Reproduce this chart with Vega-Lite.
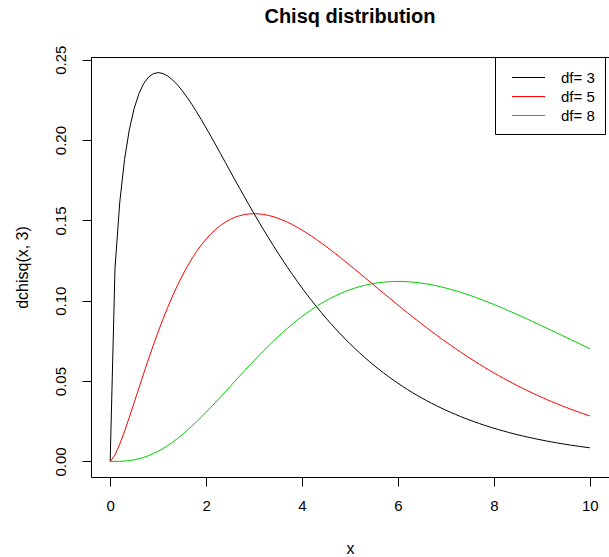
{
  "$schema": "https://vega.github.io/schema/vega-lite/v6.json",
  "width": 518,
  "height": 420,
  "autosize": {"type": "none"},
  "padding": {"left": 91, "top": 57, "right": 0, "bottom": 80},
  "background": "white",
  "title": {"text": "Chisq distribution", "font": "Liberation Sans", "fontSize": 20, "fontWeight": "bold", "color": "black", "anchor": "middle", "offset": 18},
  "config": {
    "view": {"stroke": "black", "strokeWidth": 1},
    "axis": {"grid": false, "domain": false, "tickColor": "black", "tickSize": 9, "labelFont": "Liberation Sans", "labelFontSize": 15, "labelColor": "black", "titleFont": "Liberation Sans", "titleFontSize": 16, "titleFontWeight": "normal", "titleColor": "black"},
    "legend": {"orient": "none", "legendX": 404, "legendY": 0, "title": null, "strokeColor": "black", "fillColor": "white", "padding": 10, "cornerRadius": 0, "rowPadding": 0, "labelFont": "Liberation Sans", "labelFontSize": 15, "labelColor": "black", "symbolType": "M-1.65,0H1.65", "symbolSize": 400, "symbolStrokeWidth": 1, "symbolOffset": 13, "labelOffset": 22}
  },
  "data": {"values": [
{"x":0,"df":"df= 3","y":0},{"x":0.1,"df":"df= 3","y":0.120004},{"x":0.2,"df":"df= 3","y":0.161434},{"x":0.3,"df":"df= 3","y":0.188073},{"x":0.4,"df":"df= 3","y":0.206578},{"x":0.5,"df":"df= 3","y":0.219696},{"x":0.6,"df":"df= 3","y":0.228927},{"x":0.7,"df":"df= 3","y":0.235211},{"x":0.8,"df":"df= 3","y":0.239188},{"x":0.9,"df":"df= 3","y":0.241324},{"x":1,"df":"df= 3","y":0.241971},
{"x":1.1,"df":"df= 3","y":0.241405},{"x":1.2,"df":"df= 3","y":0.239842},{"x":1.3,"df":"df= 3","y":0.23746},{"x":1.4,"df":"df= 3","y":0.234406},{"x":1.5,"df":"df= 3","y":0.2308},{"x":1.6,"df":"df= 3","y":0.226743},{"x":1.7,"df":"df= 3","y":0.222323},{"x":1.8,"df":"df= 3","y":0.217611},{"x":1.9,"df":"df= 3","y":0.21267},{"x":2,"df":"df= 3","y":0.207554},
{"x":2.1,"df":"df= 3","y":0.202307},{"x":2.2,"df":"df= 3","y":0.196969},{"x":2.3,"df":"df= 3","y":0.191574},{"x":2.4,"df":"df= 3","y":0.18615},{"x":2.5,"df":"df= 3","y":0.180722},{"x":2.6,"df":"df= 3","y":0.175313},{"x":2.7,"df":"df= 3","y":0.169939},{"x":2.8,"df":"df= 3","y":0.164618},{"x":2.9,"df":"df= 3","y":0.15936},{"x":3,"df":"df= 3","y":0.15418},
{"x":3.1,"df":"df= 3","y":0.149085},{"x":3.2,"df":"df= 3","y":0.144084},{"x":3.3,"df":"df= 3","y":0.139181},{"x":3.4,"df":"df= 3","y":0.134385},{"x":3.5,"df":"df= 3","y":0.129697},{"x":3.6,"df":"df= 3","y":0.125121},{"x":3.7,"df":"df= 3","y":0.120661},{"x":3.8,"df":"df= 3","y":0.116318},{"x":3.9,"df":"df= 3","y":0.112091},{"x":4,"df":"df= 3","y":0.107982},
{"x":4.1,"df":"df= 3","y":0.103992},{"x":4.2,"df":"df= 3","y":0.100119},{"x":4.3,"df":"df= 3","y":0.096363},{"x":4.4,"df":"df= 3","y":0.092723},{"x":4.5,"df":"df= 3","y":0.089198},{"x":4.6,"df":"df= 3","y":0.085786},{"x":4.7,"df":"df= 3","y":0.082484},{"x":4.8,"df":"df= 3","y":0.079291},{"x":4.9,"df":"df= 3","y":0.076206},{"x":5,"df":"df= 3","y":0.073225},
{"x":5.1,"df":"df= 3","y":0.070347},{"x":5.2,"df":"df= 3","y":0.067569},{"x":5.3,"df":"df= 3","y":0.064888},{"x":5.4,"df":"df= 3","y":0.062304},{"x":5.5,"df":"df= 3","y":0.059811},{"x":5.6,"df":"df= 3","y":0.057409},{"x":5.7,"df":"df= 3","y":0.055094},{"x":5.8,"df":"df= 3","y":0.052865},{"x":5.9,"df":"df= 3","y":0.050719},{"x":6,"df":"df= 3","y":0.048652},
{"x":6.1,"df":"df= 3","y":0.046664},{"x":6.2,"df":"df= 3","y":0.04475},{"x":6.3,"df":"df= 3","y":0.042909},{"x":6.4,"df":"df= 3","y":0.041139},{"x":6.5,"df":"df= 3","y":0.039437},{"x":6.6,"df":"df= 3","y":0.037801},{"x":6.7,"df":"df= 3","y":0.036229},{"x":6.8,"df":"df= 3","y":0.034718},{"x":6.9,"df":"df= 3","y":0.033267},{"x":7,"df":"df= 3","y":0.031873},
{"x":7.1,"df":"df= 3","y":0.030535},{"x":7.2,"df":"df= 3","y":0.029249},{"x":7.3,"df":"df= 3","y":0.028015},{"x":7.4,"df":"df= 3","y":0.026832},{"x":7.5,"df":"df= 3","y":0.025695},{"x":7.6,"df":"df= 3","y":0.024604},{"x":7.7,"df":"df= 3","y":0.023558},{"x":7.8,"df":"df= 3","y":0.022553},{"x":7.9,"df":"df= 3","y":0.021591},{"x":8,"df":"df= 3","y":0.020667},
{"x":8.1,"df":"df= 3","y":0.019781},{"x":8.2,"df":"df= 3","y":0.018933},{"x":8.3,"df":"df= 3","y":0.018118},{"x":8.4,"df":"df= 3","y":0.017339},{"x":8.5,"df":"df= 3","y":0.01659},{"x":8.6,"df":"df= 3","y":0.015875},{"x":8.7,"df":"df= 3","y":0.015188},{"x":8.8,"df":"df= 3","y":0.014529},{"x":8.9,"df":"df= 3","y":0.0139},{"x":9,"df":"df= 3","y":0.013296},
{"x":9.1,"df":"df= 3","y":0.012717},{"x":9.2,"df":"df= 3","y":0.012163},{"x":9.3,"df":"df= 3","y":0.011633},{"x":9.4,"df":"df= 3","y":0.011125},{"x":9.5,"df":"df= 3","y":0.010639},{"x":9.6,"df":"df= 3","y":0.010173},{"x":9.7,"df":"df= 3","y":0.009726},{"x":9.8,"df":"df= 3","y":0.009301},{"x":9.9,"df":"df= 3","y":0.008891},{"x":10,"df":"df= 3","y":0.0085},
{"x":0,"df":"df= 5","y":0},{"x":0.1,"df":"df= 5","y":0.004},{"x":0.2,"df":"df= 5","y":0.010762},{"x":0.3,"df":"df= 5","y":0.018807},{"x":0.4,"df":"df= 5","y":0.027544},{"x":0.5,"df":"df= 5","y":0.036616},{"x":0.6,"df":"df= 5","y":0.045785},{"x":0.7,"df":"df= 5","y":0.054883},{"x":0.8,"df":"df= 5","y":0.063783},{"x":0.9,"df":"df= 5","y":0.072397},{"x":1,"df":"df= 5","y":0.080657},
{"x":1.1,"df":"df= 5","y":0.088515},{"x":1.2,"df":"df= 5","y":0.095937},{"x":1.3,"df":"df= 5","y":0.102899},{"x":1.4,"df":"df= 5","y":0.109389},{"x":1.5,"df":"df= 5","y":0.1154},{"x":1.6,"df":"df= 5","y":0.12093},{"x":1.7,"df":"df= 5","y":0.125983},{"x":1.8,"df":"df= 5","y":0.130567},{"x":1.9,"df":"df= 5","y":0.134691},{"x":2,"df":"df= 5","y":0.138369},
{"x":2.1,"df":"df= 5","y":0.141615},{"x":2.2,"df":"df= 5","y":0.144444},{"x":2.3,"df":"df= 5","y":0.146873},{"x":2.4,"df":"df= 5","y":0.14892},{"x":2.5,"df":"df= 5","y":0.150602},{"x":2.6,"df":"df= 5","y":0.151938},{"x":2.7,"df":"df= 5","y":0.152945},{"x":2.8,"df":"df= 5","y":0.153643},{"x":2.9,"df":"df= 5","y":0.154048},{"x":3,"df":"df= 5","y":0.15418},
{"x":3.1,"df":"df= 5","y":0.154055},{"x":3.2,"df":"df= 5","y":0.15369},{"x":3.3,"df":"df= 5","y":0.153099},{"x":3.4,"df":"df= 5","y":0.152303},{"x":3.5,"df":"df= 5","y":0.151313},{"x":3.6,"df":"df= 5","y":0.150145},{"x":3.7,"df":"df= 5","y":0.148815},{"x":3.8,"df":"df= 5","y":0.147336},{"x":3.9,"df":"df= 5","y":0.145718},{"x":4,"df":"df= 5","y":0.143976},
{"x":4.1,"df":"df= 5","y":0.142122},{"x":4.2,"df":"df= 5","y":0.140167},{"x":4.3,"df":"df= 5","y":0.13812},{"x":4.4,"df":"df= 5","y":0.135994},{"x":4.5,"df":"df= 5","y":0.133797},{"x":4.6,"df":"df= 5","y":0.131538},{"x":4.7,"df":"df= 5","y":0.129225},{"x":4.8,"df":"df= 5","y":0.126866},{"x":4.9,"df":"df= 5","y":0.12447},{"x":5,"df":"df= 5","y":0.122042},
{"x":5.1,"df":"df= 5","y":0.11959},{"x":5.2,"df":"df= 5","y":0.11712},{"x":5.3,"df":"df= 5","y":0.114635},{"x":5.4,"df":"df= 5","y":0.112147},{"x":5.5,"df":"df= 5","y":0.109654},{"x":5.6,"df":"df= 5","y":0.107163},{"x":5.7,"df":"df= 5","y":0.104679},{"x":5.8,"df":"df= 5","y":0.102206},{"x":5.9,"df":"df= 5","y":0.099747},{"x":6,"df":"df= 5","y":0.097304},
{"x":6.1,"df":"df= 5","y":0.094883},{"x":6.2,"df":"df= 5","y":0.092483},{"x":6.3,"df":"df= 5","y":0.090109},{"x":6.4,"df":"df= 5","y":0.087763},{"x":6.5,"df":"df= 5","y":0.085447},{"x":6.6,"df":"df= 5","y":0.083162},{"x":6.7,"df":"df= 5","y":0.080911},{"x":6.8,"df":"df= 5","y":0.078694},{"x":6.9,"df":"df= 5","y":0.076514},{"x":7,"df":"df= 5","y":0.07437},
{"x":7.1,"df":"df= 5","y":0.072266},{"x":7.2,"df":"df= 5","y":0.070198},{"x":7.3,"df":"df= 5","y":0.06817},{"x":7.4,"df":"df= 5","y":0.066186},{"x":7.5,"df":"df= 5","y":0.064237},{"x":7.6,"df":"df= 5","y":0.06233},{"x":7.7,"df":"df= 5","y":0.060465},{"x":7.8,"df":"df= 5","y":0.058638},{"x":7.9,"df":"df= 5","y":0.056856},{"x":8,"df":"df= 5","y":0.055112},
{"x":8.1,"df":"df= 5","y":0.053409},{"x":8.2,"df":"df= 5","y":0.05175},{"x":8.3,"df":"df= 5","y":0.050127},{"x":8.4,"df":"df= 5","y":0.048549},{"x":8.5,"df":"df= 5","y":0.047005},{"x":8.6,"df":"df= 5","y":0.045508},{"x":8.7,"df":"df= 5","y":0.044045},{"x":8.8,"df":"df= 5","y":0.042618},{"x":8.9,"df":"df= 5","y":0.041237},{"x":9,"df":"df= 5","y":0.039888},
{"x":9.1,"df":"df= 5","y":0.038575},{"x":9.2,"df":"df= 5","y":0.0373},{"x":9.3,"df":"df= 5","y":0.036062},{"x":9.4,"df":"df= 5","y":0.034858},{"x":9.5,"df":"df= 5","y":0.03369},{"x":9.6,"df":"df= 5","y":0.032554},{"x":9.7,"df":"df= 5","y":0.031448},{"x":9.8,"df":"df= 5","y":0.030383},{"x":9.9,"df":"df= 5","y":0.02934},{"x":10,"df":"df= 5","y":0.028334},
{"x":0,"df":"df= 8","y":0},{"x":0.1,"df":"df= 8","y":0.0000099},{"x":0.2,"df":"df= 8","y":0.0000754},{"x":0.3,"df":"df= 8","y":0.000242},{"x":0.4,"df":"df= 8","y":0.000546},{"x":0.5,"df":"df= 8","y":0.001014},{"x":0.6,"df":"df= 8","y":0.001667},{"x":0.7,"df":"df= 8","y":0.002518},{"x":0.8,"df":"df= 8","y":0.003575},{"x":0.9,"df":"df= 8","y":0.004842},{"x":1,"df":"df= 8","y":0.006318},
{"x":1.1,"df":"df= 8","y":0.007999},{"x":1.2,"df":"df= 8","y":0.009879},{"x":1.3,"df":"df= 8","y":0.011947},{"x":1.4,"df":"df= 8","y":0.014194},{"x":1.5,"df":"df= 8","y":0.016607},{"x":1.6,"df":"df= 8","y":0.019171},{"x":1.7,"df":"df= 8","y":0.021874},{"x":1.8,"df":"df= 8","y":0.024699},{"x":1.9,"df":"df= 8","y":0.027632},{"x":2,"df":"df= 8","y":0.030657},
{"x":2.1,"df":"df= 8","y":0.033758},{"x":2.2,"df":"df= 8","y":0.036921},{"x":2.3,"df":"df= 8","y":0.040131},{"x":2.4,"df":"df= 8","y":0.043372},{"x":2.5,"df":"df= 8","y":0.046632},{"x":2.6,"df":"df= 8","y":0.049897},{"x":2.7,"df":"df= 8","y":0.053153},{"x":2.8,"df":"df= 8","y":0.056389},{"x":2.9,"df":"df= 8","y":0.059593},{"x":3,"df":"df= 8","y":0.062755},
{"x":3.1,"df":"df= 8","y":0.065865},{"x":3.2,"df":"df= 8","y":0.068915},{"x":3.3,"df":"df= 8","y":0.071893},{"x":3.4,"df":"df= 8","y":0.074794},{"x":3.5,"df":"df= 8","y":0.07761},{"x":3.6,"df":"df= 8","y":0.080335},{"x":3.7,"df":"df= 8","y":0.082965},{"x":3.8,"df":"df= 8","y":0.085492},{"x":3.9,"df":"df= 8","y":0.087912},{"x":4,"df":"df= 8","y":0.090223},
{"x":4.1,"df":"df= 8","y":0.092423},{"x":4.2,"df":"df= 8","y":0.094506},{"x":4.3,"df":"df= 8","y":0.096473},{"x":4.4,"df":"df= 8","y":0.098318},{"x":4.5,"df":"df= 8","y":0.100047},{"x":4.6,"df":"df= 8","y":0.101654},{"x":4.7,"df":"df= 8","y":0.103141},{"x":4.8,"df":"df= 8","y":0.104507},{"x":4.9,"df":"df= 8","y":0.105756},{"x":5,"df":"df= 8","y":0.106882},
{"x":5.1,"df":"df= 8","y":0.107893},{"x":5.2,"df":"df= 8","y":0.108786},{"x":5.3,"df":"df= 8","y":0.109566},{"x":5.4,"df":"df= 8","y":0.110236},{"x":5.5,"df":"df= 8","y":0.110794},{"x":5.6,"df":"df= 8","y":0.111243},{"x":5.7,"df":"df= 8","y":0.111587},{"x":5.8,"df":"df= 8","y":0.11183},{"x":5.9,"df":"df= 8","y":0.111974},{"x":6,"df":"df= 8","y":0.112021},
{"x":6.1,"df":"df= 8","y":0.111976},{"x":6.2,"df":"df= 8","y":0.111839},{"x":6.3,"df":"df= 8","y":0.111614},{"x":6.4,"df":"df= 8","y":0.111306},{"x":6.5,"df":"df= 8","y":0.11092},{"x":6.6,"df":"df= 8","y":0.110456},{"x":6.7,"df":"df= 8","y":0.109917},{"x":6.8,"df":"df= 8","y":0.109309},{"x":6.9,"df":"df= 8","y":0.108634},{"x":7,"df":"df= 8","y":0.107892},
{"x":7.1,"df":"df= 8","y":0.107095},{"x":7.2,"df":"df= 8","y":0.106236},{"x":7.3,"df":"df= 8","y":0.105323},{"x":7.4,"df":"df= 8","y":0.104364},{"x":7.5,"df":"df= 8","y":0.103352},{"x":7.6,"df":"df= 8","y":0.102296},{"x":7.7,"df":"df= 8","y":0.101199},{"x":7.8,"df":"df= 8","y":0.10006},{"x":7.9,"df":"df= 8","y":0.09889},{"x":8,"df":"df= 8","y":0.097685},
{"x":8.1,"df":"df= 8","y":0.096446},{"x":8.2,"df":"df= 8","y":0.095185},{"x":8.3,"df":"df= 8","y":0.093892},{"x":8.4,"df":"df= 8","y":0.092586},{"x":8.5,"df":"df= 8","y":0.091249},{"x":8.6,"df":"df= 8","y":0.089903},{"x":8.7,"df":"df= 8","y":0.088535},{"x":8.8,"df":"df= 8","y":0.08715},{"x":8.9,"df":"df= 8","y":0.085766},{"x":9,"df":"df= 8","y":0.084359},
{"x":9.1,"df":"df= 8","y":0.082948},{"x":9.2,"df":"df= 8","y":0.081535},{"x":9.3,"df":"df= 8","y":0.080117},{"x":9.4,"df":"df= 8","y":0.07869},{"x":9.5,"df":"df= 8","y":0.077271},{"x":9.6,"df":"df= 8","y":0.075847},{"x":9.7,"df":"df= 8","y":0.074422},{"x":9.8,"df":"df= 8","y":0.073011},{"x":9.9,"df":"df= 8","y":0.071589},{"x":10,"df":"df= 8","y":0.070188}
  ]},
  "mark": {"type": "line", "strokeWidth": 1, "clip": true},
  "encoding": {
    "x": {"field": "x", "type": "quantitative", "title": "x",
      "scale": {"domain": [-0.4, 10.4], "nice": false, "zero": false},
      "axis": {"values": [0, 2, 4, 6, 8, 10], "labelPadding": 12, "titlePadding": 27, "labelFlush": false}},
    "y": {"field": "y", "type": "quantitative", "title": "dchisq(x, 3)",
      "scale": {"domain": [-0.00968, 0.25168], "nice": false, "zero": false},
      "axis": {"values": [0, 0.05, 0.1, 0.15, 0.2, 0.25], "format": ".2f", "labelAngle": -90, "labelAlign": "center", "labelBaseline": "bottom", "labelPadding": 14, "titlePadding": 23, "labelFlush": false}},
    "color": {"field": "df", "type": "nominal",
      "scale": {"domain": ["df= 3", "df= 5", "df= 8"], "range": ["#000000", "#FF0000", "#00CD00"]}},
    "detail": {"field": "df"}
  }
}
